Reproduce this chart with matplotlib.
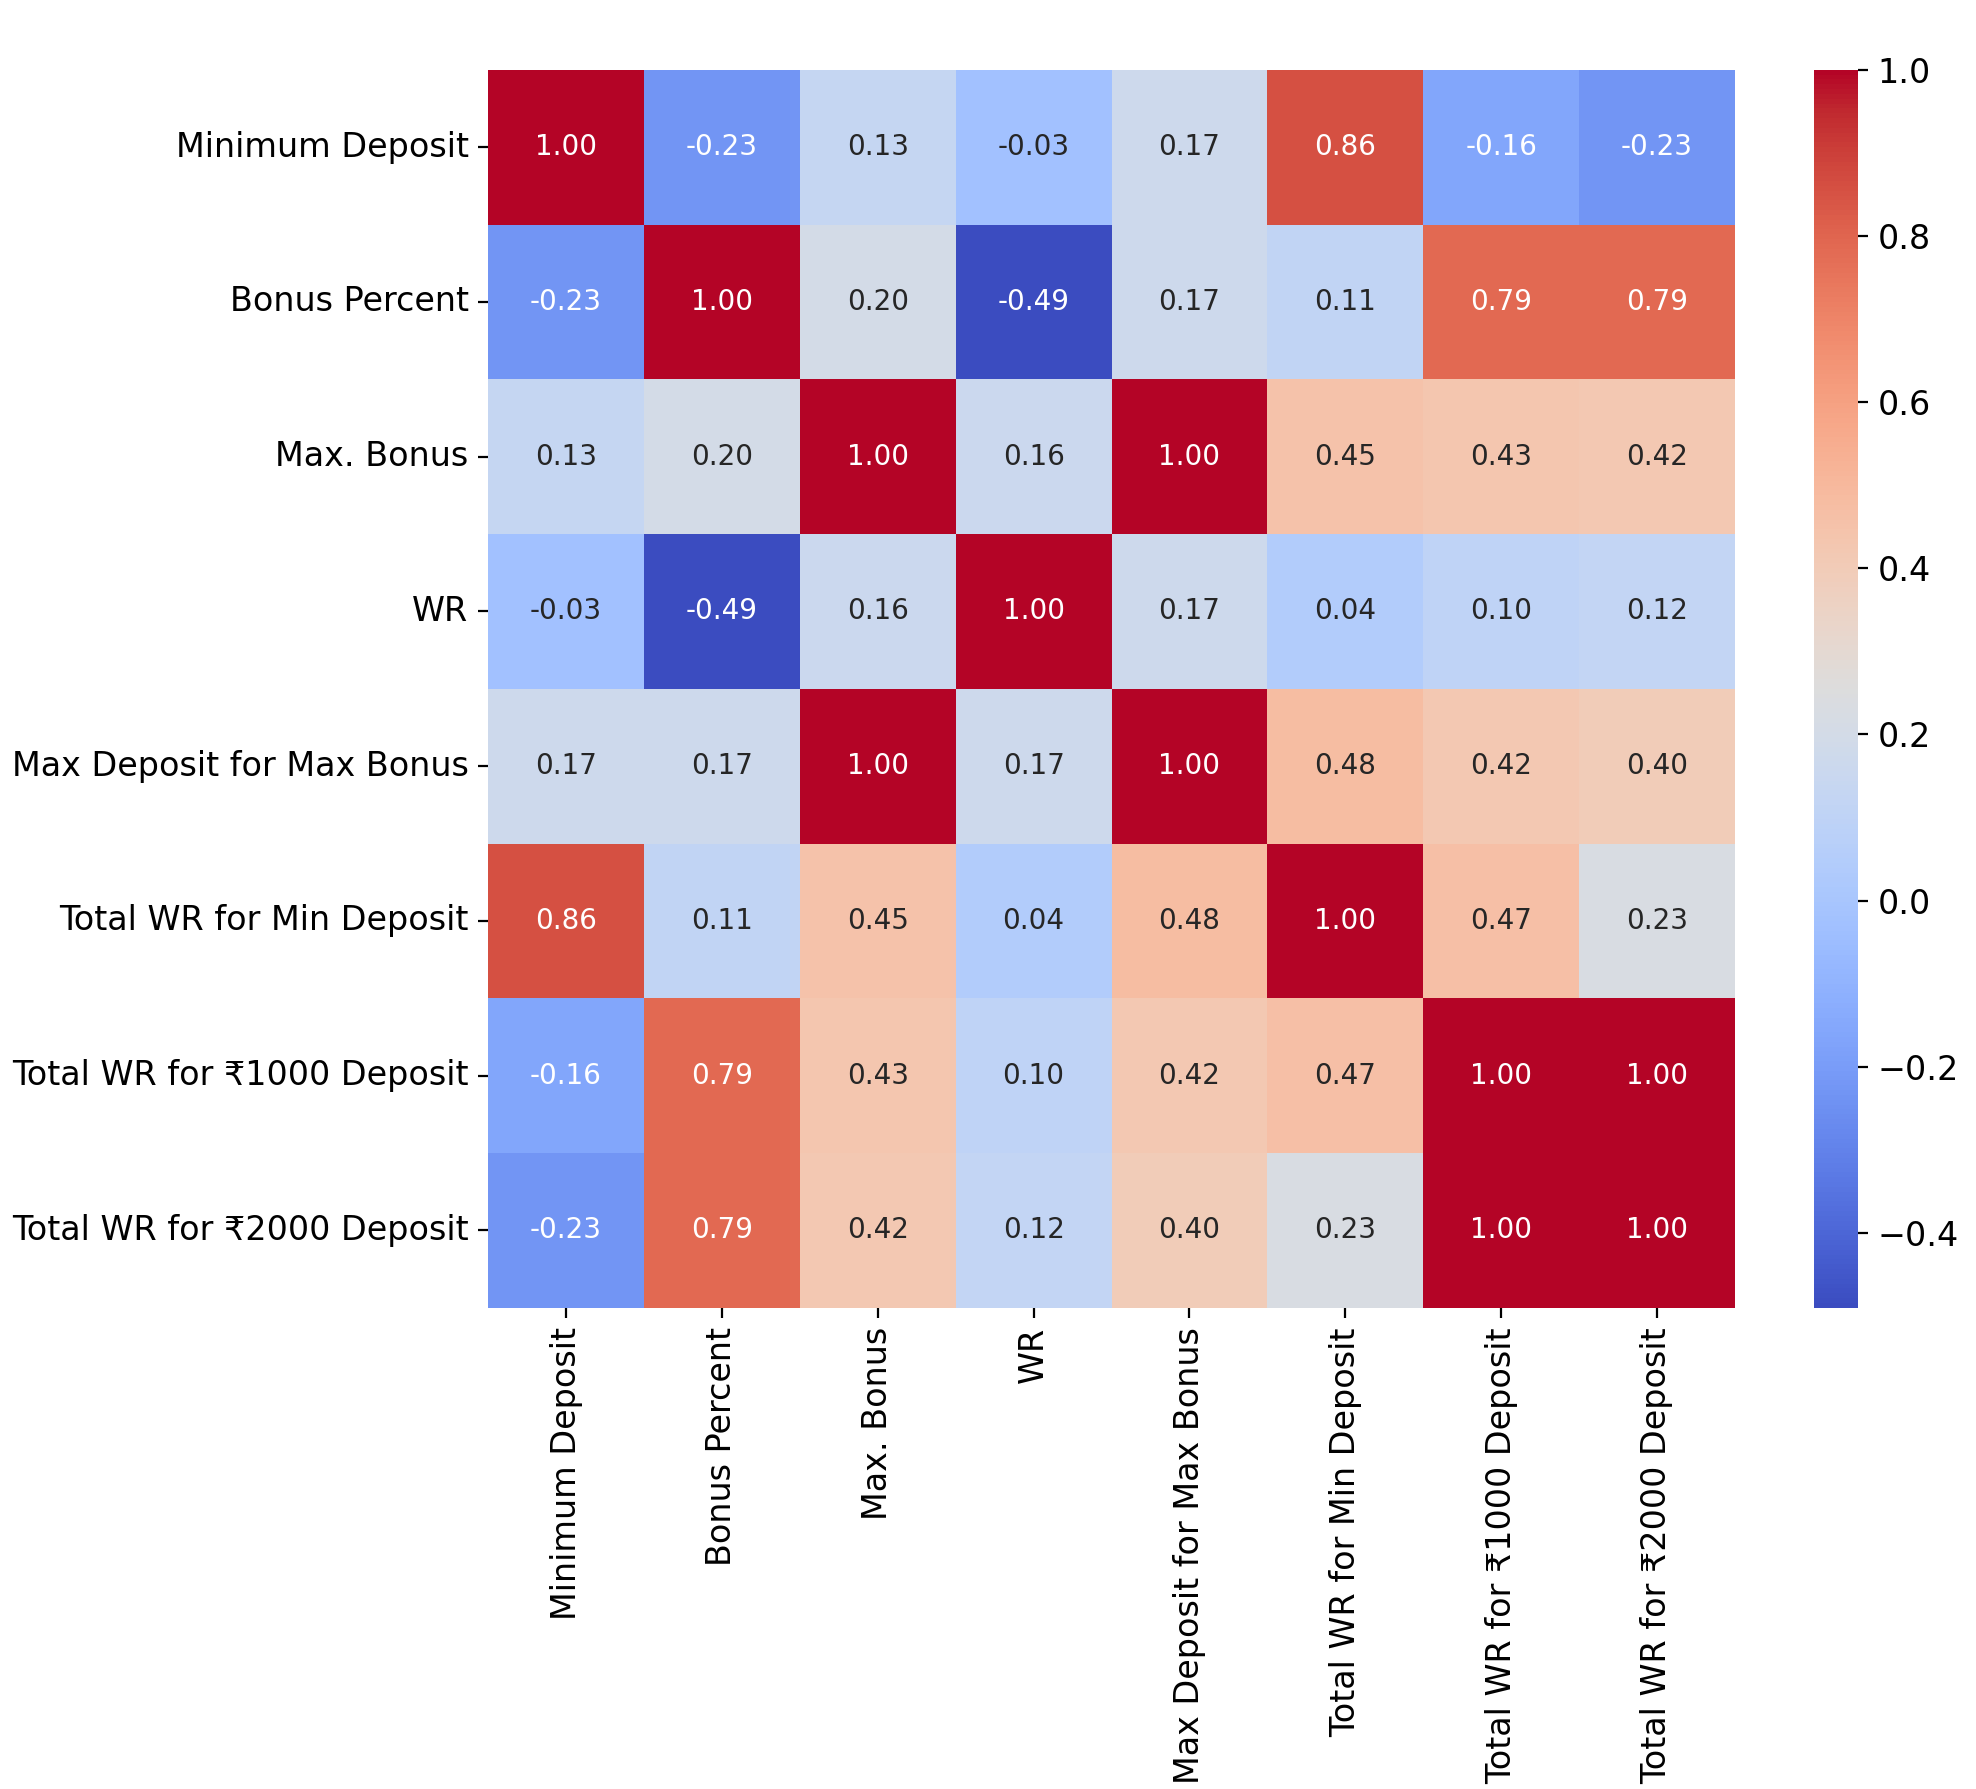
import numpy as np
import matplotlib
matplotlib.use("Agg")
import matplotlib.pyplot as plt
import seaborn as sns

labels = ["Minimum Deposit", "Bonus Percent", "Max. Bonus", "WR",
          "Max Deposit for Max Bonus", "Total WR for Min Deposit",
          "Total WR for ₹1000 Deposit", "Total WR for ₹2000 Deposit"]

corr = np.array([
    [1.00, -0.23, 0.13, -0.03, 0.17, 0.86, -0.16, -0.23],
    [-0.23, 1.00, 0.20, -0.49, 0.17, 0.11, 0.79, 0.79],
    [0.13, 0.20, 1.00, 0.16, 1.00, 0.45, 0.43, 0.42],
    [-0.03, -0.49, 0.16, 1.00, 0.17, 0.04, 0.10, 0.12],
    [0.17, 0.17, 1.00, 0.17, 1.00, 0.48, 0.42, 0.40],
    [0.86, 0.11, 0.45, 0.04, 0.48, 1.00, 0.47, 0.23],
    [-0.16, 0.79, 0.43, 0.10, 0.42, 0.47, 1.00, 1.00],
    [-0.23, 0.79, 0.42, 0.12, 0.40, 0.23, 1.00, 1.00],
])

fig = plt.figure(figsize=(9.88, 8.945), dpi=200)
ax = fig.add_axes([0.247, 0.269, 0.631, 0.692])
cax = fig.add_axes([0.918, 0.269, 0.0224, 0.692])
sns.heatmap(corr, annot=True, fmt=".2f", cmap="coolwarm", ax=ax, cbar_ax=cax,
            xticklabels=labels, yticklabels=labels, annot_kws={"size": 10})
ax.tick_params(labelsize=12)
plt.setp(ax.get_xticklabels(), rotation=90)
plt.setp(ax.get_yticklabels(), rotation=0)
cax.tick_params(labelsize=12)
fig.savefig("out.png", dpi=200)
